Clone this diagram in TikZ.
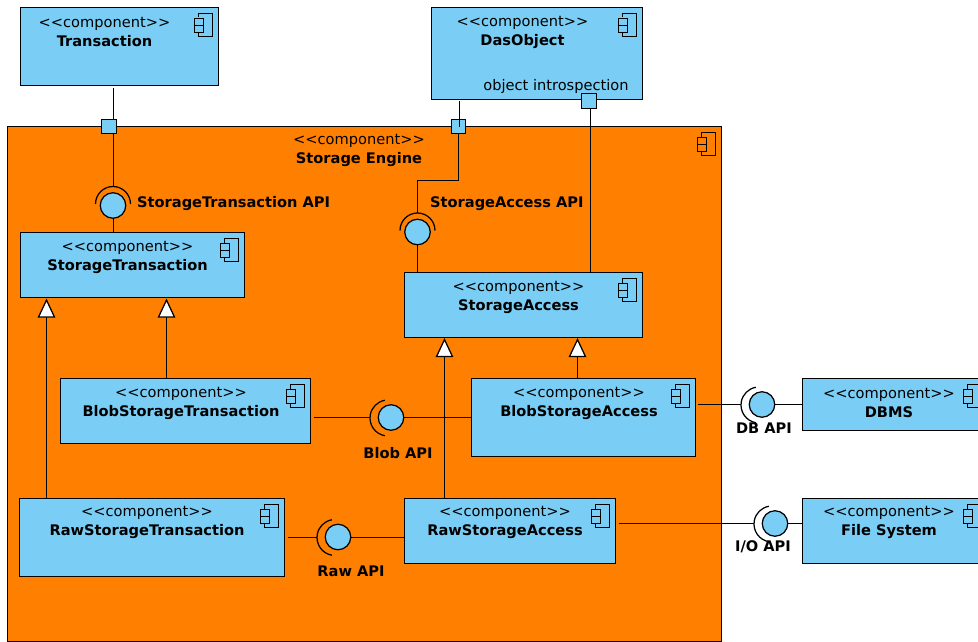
\documentclass[tikz,border=0pt]{standalone}
\usepackage{fontspec}
\setmainfont{DejaVu Sans}
\definecolor{compblue}{HTML}{7ACEF5}
\definecolor{engine}{HTML}{FF8000}
\newcommand{\compbox}[6]{% name, x1,y1,x2,y2, fill
  \node[boxshape,fill=#6,minimum width={(#4-#2)*1pt},minimum height={(#5-#3)*1pt}] (#1) at ({(#2+#4)/2},{(#3+#5)/2}) {};
  \compicon{#4}{#3}}
\newcommand{\compicon}[2]{%
  \begin{scope}[shift={(#1-24,#2+6)}]
    \draw[iconline] (4,4) -- (4,0) -- (18,0) -- (18,23) -- (4,23) -- (4,19);
    \draw[iconline] (0,5) rectangle (9,12);
    \draw[iconline] (0,12) rectangle (9,19);
  \end{scope}}
\newcommand{\comptext}[4]{\node[stereo] (#1) at (#2,#3) {<{}<component>{}>\\\textbf{#4}};}
\tikzset{
  x=1pt,y=-1pt,
  boxshape/.style={draw=black,line width=1.25pt,rectangle,inner sep=0pt,outer sep=0pt},
  iconline/.style={draw=black,line width=1.2pt},
  stereo/.style={align=center,inner sep=0pt,font=\fontsize{14.6}{19}\selectfont},
  apilabel/.style={inner sep=0pt,font=\fontsize{14.6}{18}\selectfont\bfseries},
  portbox/.style={draw=black,fill=compblue,line width=1.25pt,rectangle,inner sep=0pt,outer sep=0pt,minimum width=15pt,minimum height=14pt},
  ball/.style={draw=black,fill=compblue,line width=1.25pt,circle,inner sep=0pt,outer sep=0pt,minimum size=25.5pt},
  wire/.style={draw=black,line width=1.25pt},
  socket/.style={draw=black,line width=1.25pt},
  gentri/.style={draw=black,fill=white,line width=1.25pt,isosceles triangle,shape border rotate=90,isosceles triangle apex angle=50,inner sep=0pt,outer sep=0pt,minimum height=17pt,minimum width=16pt,isosceles triangle stretches},
}
\usetikzlibrary{shapes.geometric,calc}
\begin{document}
\begin{tikzpicture}
\clip (0,0) rectangle (978,642);
\fill[white] (0,0) rectangle (978,642);
% storage engine
\compbox{engine}{7.5}{126.5}{721.5}{641.5}{engine}
\comptext{engineT}{359}{150.5}{Storage Engine}
% components
\compbox{tr}{20.5}{7.5}{218.5}{85.5}{compblue}
\comptext{trT}{104.5}{32}{Transaction}
\compbox{das}{431.5}{7.5}{642.5}{99.5}{compblue}
\comptext{dasT}{522.5}{32}{DasObject}
\node[inner sep=0pt,font=\fontsize{14.6}{18}\selectfont] (dasL) at (556,86) {object introspection};
\compbox{st}{20.5}{232.5}{244.5}{297.5}{compblue}
\comptext{stT}{127.5}{257}{StorageTransaction}
\compbox{sa}{404.5}{272.5}{642.5}{337.5}{compblue}
\comptext{saT}{518.5}{297}{StorageAccess}
\compbox{bst}{60.5}{378.5}{310.5}{443.5}{compblue}
\comptext{bstT}{181}{403}{BlobStorageTransaction}
\compbox{bsa}{471.5}{378.5}{695.5}{456.5}{compblue}
\comptext{bsaT}{579}{403}{BlobStorageAccess}
\compbox{rst}{19.5}{498.5}{284.5}{576.5}{compblue}
\comptext{rstT}{147}{522}{RawStorageTransaction}
\compbox{rsa}{404.5}{498.5}{615.5}{563.5}{compblue}
\comptext{rsaT}{505}{522}{RawStorageAccess}
\compbox{db}{802.5}{378.5}{987.5}{430.5}{compblue}
\comptext{dbT}{889}{403}{DBMS}
\compbox{fs}{802.5}{498.5}{987.5}{563.5}{compblue}
\comptext{fsT}{889}{522}{File System}
% ports
\node[portbox] (p1) at (109,126.5) {};
\node[portbox,minimum width=14pt] (p2) at (458.5,126.5) {};
\node[portbox,minimum height=15pt] (p3) at (589,101) {};
% interfaces
\node[ball] (iST) at (113,205.5) {};
\node[ball] (iSA) at (417.5,232) {};
\node[ball] (iBlob) at (391,417.5) {};
\node[ball] (iRaw) at (338,537) {};
\node[ball] (iDB) at (762,404.5) {};
\node[ball] (iIO) at (775,523.5) {};
% sockets
\coordinate (sST) at (113,204);
\coordinate (sSA) at (417.5,230.5);
\coordinate (sBlob) at (388,418);
\coordinate (sRaw) at (335,537.5);
\coordinate (sDB) at (759,405);
\coordinate (sIO) at (772,524);
\draw[socket] ($(sST)+(-17.5,0)$) arc[start angle=180,end angle=360,radius=17.5];
\draw[socket] ($(sSA)+(-17.5,0)$) arc[start angle=180,end angle=360,radius=17.5];
\foreach \s in {sBlob,sRaw,sDB,sIO}
  \draw[socket] ($(\s)+(100:18)$) arc[start angle=100,end angle=260,radius=18];
% wires to ports and interfaces
\coordinate (trOut) at (113.5,88);
\coordinate (p1in) at (113.5,119.5);
\coordinate (p1out) at (113.5,134);
\coordinate (sSTtop) at (113.5,186.5);
\coordinate (stTop) at (113.5,232.5);
\draw[wire] (trOut) -- (p1in);
\draw[wire] (p1out) -- (sSTtop);
\draw[wire] (sSTtop |- iST.south) -- (stTop);
\coordinate (dasOut) at (459.5,101.5);
\coordinate (p2in) at (459.5,127);
\coordinate (p2out) at (458.5,134);
\coordinate (sSAtop) at (417.5,213);
\draw[wire] (dasOut) -- (p2in);
\draw[wire] (p2out) |- (sSAtop |- 0,180.5) -- (sSAtop);
\draw[wire] (iSA.south) -- (iSA.south |- sa.north);
\coordinate (p3x) at (590.5,100.5);
\draw[wire] (p3.south -| p3x) -- (p3x |- sa.north);
% generalisations
\node[gentri] (g1) at (46.5,312) {};
\node[gentri] (g2) at (166.5,312) {};
\node[gentri] (g3) at (444.5,351.5) {};
\node[gentri] (g4) at (577.5,351.5) {};
\draw[wire] (g1.south) -- (g1.south |- rst.north);
\draw[wire] (g2.south) -- (g2.south |- bst.north);
\draw[wire] (g3.south) -- (g3.south |- rsa.north);
\draw[wire] (g4.south) -- (g4.south |- bsa.north);
% assembly wires
\coordinate (bstOut) at (314,417.5);
\coordinate (bl) at (370,417.5);
\draw[wire] (bstOut) -- (bl);
\draw[wire] (iBlob.east) -- (iBlob.east -| bsa.west);
\coordinate (rstOut) at (287.5,537.5);
\coordinate (rw) at (317,537.5);
\draw[wire] (rstOut) -- (rw);
\draw[wire] (iRaw.east |- rw) -- (rw -| rsa.west);
\coordinate (bsaOut) at (698,404.5);
\coordinate (dbl) at (741,404.5);
\draw[wire] (bsaOut) -- (dbl);
\draw[wire] (iDB.east) -- (iDB.east -| db.west);
\coordinate (rsaOut) at (618.5,523.5);
\coordinate (iol) at (754,523.5);
\draw[wire] (rsaOut) -- (iol);
\draw[wire] (iIO.east) -- (iIO.east -| fs.west);
% labels
\node[apilabel,anchor=west] (lST) at (137,204) {StorageTransaction API};
\node[apilabel,anchor=west] (lSA) at (430,204) {StorageAccess API};
\node[apilabel] (lBlob) at (398,453.5) {Blob API};
\node[apilabel] (lRaw) at (351,571.5) {Raw API};
\node[apilabel] (lDB) at (764,428) {DB API};
\node[apilabel] (lIO) at (763,547) {I/O API};
\end{tikzpicture}
\end{document}
